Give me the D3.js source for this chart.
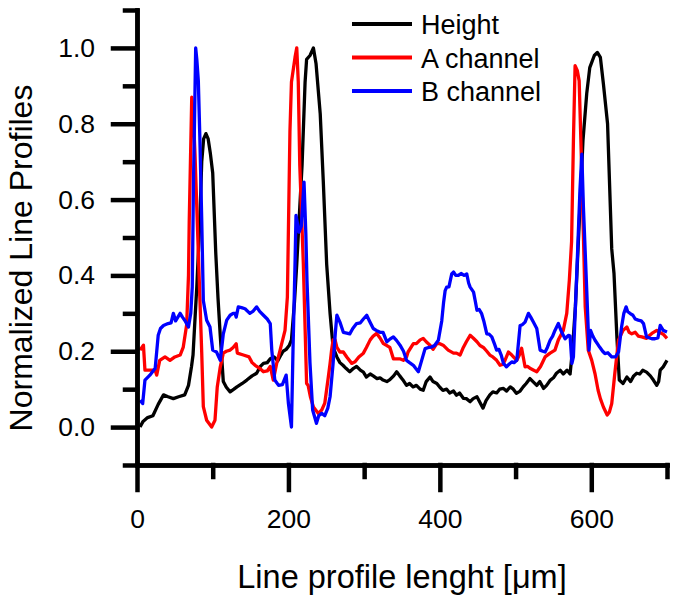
<!DOCTYPE html>
<html>
<head>
<meta charset="utf-8">
<script src="https://cdn.jsdelivr.net/npm/d3@7"></script>
<style>
  body { margin: 0; background: #fff; }
  svg { font-family: "Liberation Sans", Arial, sans-serif; }
</style>
</head>
<body>
<div class="chart"></div>
<script>
// line profiles, [position in um, normalized value]
const heightPts = [
  [4,0.0],[8,0.015],[14,0.025],[21,0.03],[28,0.06],[35,0.085],[41,0.08],[48,0.075],[55,0.08],[63,0.085],
  [68,0.11],[72,0.16],[74,0.19],[77,0.3],[79,0.37],[83,0.545],[85.5,0.70],[88,0.76],[91,0.774],[94,0.76],
  [97,0.72],[100,0.67],[104,0.46],[107,0.34],[110,0.24],[114,0.12],[118,0.105],[123,0.093],[128,0.1],[132,0.106],
  [139,0.115],[145,0.124],[152,0.135],[158,0.142],[163,0.16],[167,0.168],[172,0.17],[176,0.18],[181,0.185],[186,0.175],
  [190,0.19],[193,0.2],[197,0.205],[201,0.215],[204,0.23],[208,0.33],[211,0.43],[215,0.58],[218,0.69],[222,0.91],
  [224,0.97],[228.5,0.98],[233,1.0],[236.5,0.958],[242,0.826],[246,0.65],[250.5,0.43],[255,0.30],[259,0.21],[264,0.185],
  [268,0.17],[272,0.163],[276,0.155],[281,0.146],[286,0.155],[290,0.16],[295,0.15],[299,0.145],[303,0.132],[308,0.14],
  [312,0.135],[317,0.128],[321,0.13],[325,0.124],[330,0.12],[334,0.125],[339,0.135],[343,0.146],[347,0.135],[351,0.125],
  [356,0.11],[360,0.115],[364.5,0.106],[369,0.11],[374,0.1],[378,0.097],[382,0.12],[387,0.132],[391,0.12],[396,0.115],
  [400,0.105],[404,0.097],[409,0.1],[413,0.09],[418,0.095],[422,0.084],[426,0.09],[431,0.076],[435,0.075],[440,0.067],
  [444,0.075],[449,0.08],[453,0.065],[457,0.05],[461,0.07],[466,0.085],[470,0.093],[475,0.09],[479,0.1],[484,0.102],
  [488,0.095],[493,0.106],[497,0.1],[501,0.089],[506,0.095],[510,0.106],[514,0.115],[519,0.128],[523,0.12],[528,0.11],
  [532,0.12],[537,0.102],[541,0.11],[546,0.124],[550,0.13],[554,0.142],[559,0.15],[563,0.14],[568,0.15],[572,0.14],
  [575,0.2],[579,0.317],[585,0.58],[589,0.755],[594,0.88],[598,0.948],[604,0.98],[608,0.988],[612,0.975],[616,0.905],
  [621.5,0.80],[624,0.65],[627,0.47],[630,0.405],[634,0.23],[637,0.124],[642,0.115],[647,0.132],[652,0.12],[656,0.135],
  [660,0.142],[664,0.14],[668,0.15],[673,0.145],[678,0.135],[682,0.124],[686.5,0.11],[689,0.12],[691,0.15],[695,0.159],
  [700,0.176]
];

const aChannelPts = [
  [4,0.203],[8.5,0.216],[10.5,0.15],[17,0.15],[24,0.15],[26,0.137],[30,0.176],[37,0.185],[43.6,0.176],[50,0.185],
  [57,0.19],[61,0.21],[65.6,0.27],[68,0.4],[69,0.545],[72.3,0.87],[74.5,0.82],[76.6,0.72],[81,0.46],[85.5,0.195],
  [87.6,0.054],[92,0.018],[98.6,0.0],[103,0.018],[106,0.106],[110,0.159],[114,0.195],[118,0.2],[123,0.203],[127,0.21],
  [131,0.22],[132.5,0.195],[140.5,0.19],[148,0.185],[152,0.17],[156,0.163],[162,0.155],[167,0.146],[172,0.148],[176,0.16],
  [180,0.124],[184.5,0.168],[189,0.203],[195.5,0.255],[198.6,0.343],[202,0.78],[204,0.91],[208.7,0.975],[211,1.0],[213,0.91],
  [215,0.69],[219.7,0.43],[224,0.115],[226,0.11],[229,0.08],[233,0.053],[239.5,0.036],[244,0.045],[248,0.063],[252.7,0.132],
  [255,0.168],[257,0.203],[259,0.23],[261.6,0.23],[264,0.21],[268,0.198],[272.5,0.198],[277,0.185],[283.6,0.168],[288,0.172],
  [293,0.185],[299,0.195],[303,0.21],[308,0.23],[312,0.24],[316.6,0.247],[321,0.235],[325.4,0.22],[330,0.215],[334,0.21],
  [338.6,0.18],[343,0.18],[347,0.18],[351.8,0.176],[356,0.185],[358,0.198],[365,0.22],[369,0.22],[374,0.23],[378,0.234],
  [382,0.225],[387,0.216],[391,0.205],[396,0.22],[400,0.22],[405,0.215],[411,0.203],[418,0.195],[422,0.195],[426.7,0.19],
  [431,0.21],[435,0.225],[440,0.242],[444,0.235],[449,0.225],[453,0.215],[457.5,0.21],[462,0.2],[466,0.19],[470,0.185],
  [475,0.176],[479.5,0.163],[483,0.165],[486,0.176],[490.5,0.198],[495,0.19],[501.6,0.176],[505,0.19],[508,0.208],[512.5,0.159],
  [516,0.16],[519,0.155],[524,0.15],[528,0.146],[533,0.16],[539,0.185],[545.6,0.195],[552,0.203],[556.5,0.23],[563,0.255],
  [567.6,0.30],[571,0.387],[574,0.49],[576.4,0.755],[578.6,0.953],[581.6,0.94],[584,0.913],[587.5,0.668],[592,0.317],[596,0.203],
  [600.6,0.176],[605,0.14],[609,0.097],[612,0.075],[616,0.053],[621,0.032],[624,0.04],[627,0.062],[631,0.14],[636,0.23],
  [642,0.255],[647,0.264],[650,0.25],[653.5,0.246],[658,0.25],[662,0.24],[666.7,0.238],[673,0.234],[676,0.24],[680,0.247],
  [686.5,0.255],[690,0.25],[695,0.245],[700,0.234]
];

const bChannelPts = [
  [4,0.071],[7.5,0.062],[10.5,0.124],[17,0.137],[24,0.155],[28,0.242],[31,0.26],[35,0.268],[41,0.273],[45,0.275],
  [48,0.30],[51,0.28],[54,0.29],[57,0.30],[60,0.29],[63,0.282],[68,0.264],[71,0.3],[73,0.37],[74.5,0.63],
  [77.5,1.0],[79,0.97],[81,0.913],[83,0.764],[85.5,0.545],[87.6,0.334],[92,0.282],[96.4,0.264],[100,0.203],[105,0.198],
  [110,0.176],[114,0.246],[118.5,0.282],[123,0.295],[127,0.3],[129.5,0.30],[131,0.29],[133.8,0.317],[138,0.315],[142.7,0.312],
  [149,0.30],[153,0.305],[158,0.317],[162,0.305],[167,0.295],[172,0.285],[176,0.273],[178,0.203],[182,0.124],[187,0.11],
  [192,0.112],[197,0.137],[200,0.062],[204,0.0],[206,0.2],[208.7,0.43],[210,0.558],[214,0.514],[217,0.53],[220.6,0.646],
  [223,0.51],[224.5,0.387],[228.5,0.168],[232,0.045],[237,0.01],[240,0.03],[244,0.036],[248,0.03],[252,0.05],[255,0.08],
  [259,0.168],[262,0.25],[264,0.295],[268,0.277],[272.5,0.25],[277,0.248],[281,0.246],[285,0.26],[290,0.273],[295,0.275],
  [299,0.285],[303.4,0.295],[307,0.28],[312,0.26],[316,0.255],[321,0.25],[325,0.25],[330,0.225],[334,0.232],[338.6,0.238],
  [343,0.228],[347.4,0.216],[352,0.2],[356,0.176],[360,0.17],[365,0.163],[368,0.155],[371.6,0.146],[376,0.176],[380.5,0.207],
  [385,0.21],[389,0.211],[393,0.215],[398,0.229],[402.5,0.28],[405,0.33],[407,0.36],[409,0.369],[412,0.37],[415.7,0.404],
  [418,0.409],[421,0.4],[424.4,0.40],[428,0.405],[432,0.4],[435.5,0.404],[438,0.38],[440,0.369],[444.5,0.356],[447,0.33],
  [449,0.308],[452,0.31],[455,0.30],[458,0.28],[462,0.246],[465,0.245],[468.6,0.238],[472,0.22],[475,0.203],[478,0.205],
  [481,0.19],[484,0.168],[488,0.159],[491,0.165],[495,0.172],[498,0.17],[501.6,0.176],[506,0.268],[509,0.27],[512.5,0.277],
  [517,0.30],[520,0.29],[523.5,0.277],[528,0.26],[532.4,0.203],[536,0.2],[539,0.198],[542,0.21],[545.6,0.229],[549,0.24],
  [552,0.255],[556.5,0.273],[561,0.25],[565.4,0.233],[569.8,0.242],[572,0.24],[574.4,0.168],[576.4,0.185],[580.8,0.404],[585,0.624],
  [587.5,0.72],[589.6,0.58],[594,0.36],[597,0.203],[599,0.255],[602,0.24],[605,0.229],[608,0.22],[611,0.211],[615,0.2],
  [618,0.194],[622,0.196],[627,0.185],[632,0.185],[636,0.198],[640,0.264],[643,0.3],[646,0.317],[648,0.305],[651,0.30],
  [655,0.295],[658,0.285],[662,0.282],[666,0.28],[669,0.273],[673,0.238],[677,0.235],[680,0.233],[684,0.233],[688,0.235],
  [691,0.268],[695,0.255],[700,0.251]
];

const seriesNames = ["Height", "A channel", "B channel"];
const seriesColors = ["#000000", "#ff0000", "#0000ff"];
const xMajorTicks = [0, 200, 400, 600];
const xMinorTicks = [100, 300, 500, 700];
const yMajorTicks = [0.0, 0.2, 0.4, 0.6, 0.8, 1.0];
const yMinorTicks = [-0.1, 0.1, 0.3, 0.5, 0.7, 0.9, 1.1];

const width = 677, height = 602;
const xScale = d3.scaleLinear().domain([0, 700]).range([137, 667]);
const yScale = d3.scaleLinear().domain([-0.1, 1.1]).range([465, 10]);

const svg = d3.select(".chart").append("svg")
    .attr("width", width)
    .attr("height", height);

const line = d3.line()
    .x(d => xScale(d[0]))
    .y(d => yScale(d[1]));

// draw series: height first, B channel on top
[heightPts, aChannelPts, bChannelPts].forEach((pts, i) => {
    svg.append("path")
        .datum(pts)
        .attr("d", line)
        .attr("fill", "none")
        .attr("stroke", seriesColors[i])
        .attr("stroke-width", 3.3)
        .attr("stroke-linejoin", "round");
});

// axes
const xAxisMinor = svg.append("g")
    .attr("transform", `translate(0,${yScale(-0.1)})`)
    .call(d3.axisBottom(xScale).tickValues(xMinorTicks).tickSize(12).tickSizeOuter(0).tickFormat(""));
const xAxis = svg.append("g")
    .attr("transform", `translate(0,${yScale(-0.1)})`)
    .call(d3.axisBottom(xScale).tickValues(xMajorTicks).tickSize(25).tickSizeOuter(0).tickPadding(19).tickFormat(d3.format("d")));

const yAxisMinor = svg.append("g")
    .attr("transform", `translate(${xScale(0)},0)`)
    .call(d3.axisLeft(yScale).tickValues(yMinorTicks).tickSize(12).tickSizeOuter(0).tickFormat(""));
const yAxis = svg.append("g")
    .attr("transform", `translate(${xScale(0)},0)`)
    .call(d3.axisLeft(yScale).tickValues(yMajorTicks).tickSize(24).tickSizeOuter(0).tickPadding(18).tickFormat(d3.format(".1f")));

[xAxisMinor, xAxis, yAxisMinor, yAxis].forEach(g => {
    g.selectAll("path, line")
        .attr("stroke", "#000")
        .attr("stroke-width", 4.5)
        .attr("stroke-linecap", "square");
    g.selectAll("text")
        .attr("fill", "#000")
        .style("font-size", "26.5px")
        .style("font-family", "'Liberation Sans', Arial, sans-serif");
});

// axis titles
svg.append("text")
    .attr("x", (xScale(0) + xScale(700)) / 2)
    .attr("y", 588)
    .attr("text-anchor", "middle")
    .style("font-size", "32.5px")
    .text("Line profile lenght [\u03bcm]");

svg.append("text")
    .attr("transform", "translate(32,258) rotate(-90)")
    .attr("text-anchor", "middle")
    .style("font-size", "32px")
    .text("Normalized Line Profiles");

// legend
const legend = svg.append("g").attr("transform", "translate(352,24)");
seriesNames.forEach((name, i) => {
    const row = legend.append("g").attr("transform", `translate(0,${i * 33.5})`);
    row.append("line")
        .attr("x1", 0).attr("x2", 60)
        .attr("y1", 0).attr("y2", 0)
        .attr("stroke", seriesColors[i])
        .attr("stroke-width", 4);
    row.append("text")
        .attr("x", 69)
        .attr("y", 10)
        .style("font-size", "27px")
        .text(name);
});
</script>
</body>
</html>
